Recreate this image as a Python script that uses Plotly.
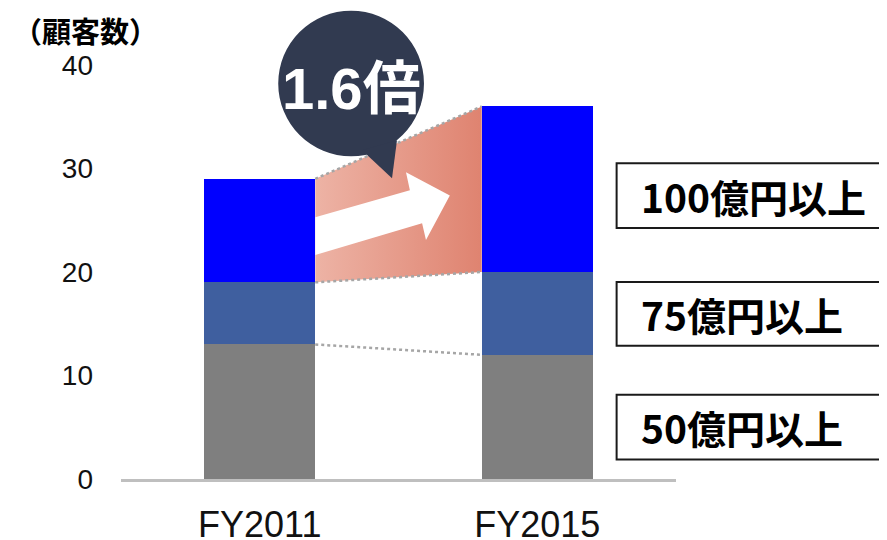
import plotly.graph_objects as go

# ---- data ----
categories = ["FY2011", "FY2015"]
seg_50 = [13, 12]     # 50億円以上
seg_75 = [6, 8]       # 75億円以上
seg_100 = [10, 16]    # 100億円以上
series_names = ["50億円以上", "75億円以上", "100億円以上"]
y_ticks = [0, 10, 20, 30, 40]
ratio_label = "1.6倍"
y_title = "（顧客数）"

colors = ["#7F7F7F", "#3F5F9F", "#0000FF"]
bar_w = 0.4
xpos = list(range(len(categories)))

fig = go.Figure()
for vals, name, col in zip([seg_50, seg_75, seg_100], series_names, colors):
    fig.add_trace(go.Bar(x=xpos, y=vals, name=name, width=bar_w,
                         marker=dict(color=col, line=dict(width=0)),
                         showlegend=False, hoverinfo="skip"))

# cumulative tops
c1 = [a for a in seg_50]
c2 = [a + b for a, b in zip(seg_50, seg_75)]
c3 = [a + b + c for a, b, c in zip(seg_50, seg_75, seg_100)]
xl = xpos[0] + bar_w / 2
xr = xpos[1] - bar_w / 2

# gradient band for the 100億円以上 segment
fig.add_trace(go.Scatter(
    x=[xl, xr, xr, xl, xl], y=[c2[0], c2[1], c3[1], c3[0], c2[0]],
    mode="lines", line=dict(width=0), fill="toself",
    fillgradient=dict(type="horizontal",
                      colorscale=[[0, "#EDB3A5"], [1, "#DF8370"]]),
    showlegend=False, hoverinfo="skip"))

# dotted connectors
for lo, hi in [(c1[0], c1[1]), (c2[0], c2[1]), (c3[0], c3[1])]:
    fig.add_trace(go.Scatter(x=[xl, xr], y=[lo, hi], mode="lines",
                             line=dict(color="#A6A6A6", width=2.5, dash="dot"),
                             showlegend=False, hoverinfo="skip"))

shapes = []
# white arrow inside band (decoration)
arrow_path = ("M 0.2,25.3 L 0.541,27.9 L 0.527,29.64 L 0.685,27.4 "
              "L 0.599,23.08 L 0.585,24.72 L 0.2,21.64 Z")
shapes.append(dict(type="path", xref="x", yref="y", path=arrow_path,
                   fillcolor="white", line=dict(width=0), layer="above"))

# speech balloon
balloon = "#313A50"
shapes.append(dict(type="circle", xref="paper", yref="paper",
                   x0=0.2833, x1=0.5459, y0=0.7795, y1=1.1313,
                   fillcolor=balloon, line=dict(width=0), layer="above"))
shapes.append(dict(type="path", xref="paper", yref="paper",
                   path="M 0.4343,0.794 L 0.4883,0.7265 L 0.4973,0.818 Z",
                   fillcolor=balloon, line=dict(width=0), layer="above"))

# right-hand label boxes
boxes = [(0.606, 0.7627), (0.3217, 0.4759), (0.047, 0.2036)]
for y0, y1 in boxes:
    shapes.append(dict(type="rect", xref="paper", yref="paper",
                       x0=0.893, x1=1.40, y0=y0, y1=y1,
                       fillcolor="white", line=dict(color="#1A1A1A", width=2),
                       layer="above"))

annotations = []
for (y0, y1), name in zip(boxes, list(reversed(series_names))):
    annotations.append(dict(xref="paper", yref="paper", x=0.934, y=(y0 + y1) / 2,
                            xanchor="left", yanchor="middle", showarrow=False,
                            text="<b>" + name + "</b>",
                            font=dict(family="Noto Sans CJK JP", size=39, color="#000000")))

annotations.append(dict(xref="paper", yref="paper", x=0.4146, y=0.9434,
                        xanchor="center", yanchor="middle", showarrow=False,
                        text="<b>" + ratio_label + "</b>",
                        font=dict(family="Liberation Sans, Noto Sans CJK JP", size=58, color="white")))

annotations.append(dict(xref="paper", yref="paper", x=-0.2023, y=1.0855,
                        xanchor="left", yanchor="middle", showarrow=False,
                        xshift=2,
                        text="<b>" + y_title + "</b>",
                        font=dict(family="Noto Sans CJK JP", size=29, color="#000000")))

fig.update_layout(
    width=879, height=532,
    margin=dict(l=112.5, r=210.5, t=56.5, b=60.5, autoexpand=False),
    plot_bgcolor="white", paper_bgcolor="white",
    barmode="stack", bargap=0.6,
    shapes=shapes, annotations=annotations,
    xaxis=dict(range=[-0.5, 1.5], tickvals=xpos, ticktext=categories,
               showgrid=False, zeroline=False, showline=True,
               linecolor="#BFBFBF", linewidth=3, ticks="",
               tickfont=dict(family="Liberation Sans", size=36, color="#111111"),
               ticklabelstandoff=12),
    yaxis=dict(range=[0, 40], tickvals=y_ticks, showgrid=False, zeroline=False,
               showline=False, ticks="",
               tickfont=dict(family="Liberation Sans", size=28, color="#111111"),
               ticklabelstandoff=27),
)

fig.write_html("out.html")
